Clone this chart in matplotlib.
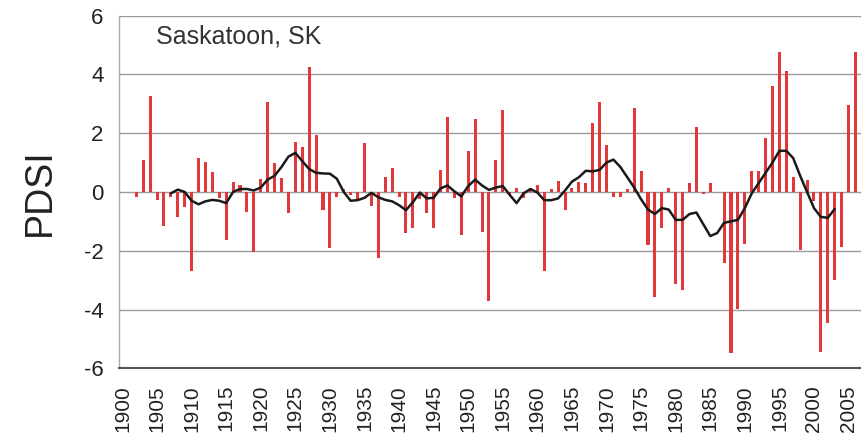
import matplotlib
matplotlib.use("Agg")
import matplotlib.pyplot as plt
import numpy as np

# annual PDSI, Saskatoon
bar_years = list(range(1902, 2008))
pdsi = [
    -0.17, 1.07, 3.25, -0.27, -1.15, -0.17, -0.86, -0.50,            # 1902-1909
    -2.70, 1.17, 1.03, 0.69, -0.22, -1.65, 0.35, 0.24, -0.67, -2.06,  # 1910-1919
    0.43, 3.05, 0.98, 0.46, -0.70, 1.71, 1.52, 4.26, 1.95, -0.62,     # 1920-1929
    -1.90, -0.16, 0.10, -0.10, -0.25, 1.65, -0.47, -2.26, 0.50, 0.82, # 1930-1939
    -0.18, -1.39, -1.22, -0.25, -0.72, -1.22, 0.75, 2.56, -0.19, -1.47,  # 1940-1949
    1.41, 2.47, -1.35, -3.70, 1.09, 2.79, -0.10, 0.12, -0.20, 0.15,   # 1950-1959
    0.24, -2.70, 0.10, 0.36, -0.62, 0.15, 0.33, 0.30, 2.36, 3.07,     # 1960-1969
    1.60, -0.17, -0.17, 0.10, 2.86, 0.70, -1.79, -3.58, -1.23, 0.15,  # 1970-1979
    -3.13, -3.33, 0.31, 2.20, -0.07, 0.31, 0.00, -2.41, -5.49, -3.99, # 1980-1989
    -1.78, 0.71, 0.70, 1.83, 3.60, 4.75, 4.13, 0.50, -1.98, 0.39,     # 1990-1999
    -0.30, -5.43, -4.47, -3.00, -1.86, 2.96, 4.75, 4.00,              # 2000-2007
]

# smoothed series
smooth_years = list(range(1907, 2004))
smooth = [
    -0.05, 0.08, 0.00,                                                # 1907-1909
    -0.30, -0.42, -0.32, -0.27, -0.30, -0.38, 0.00, 0.10, 0.10, 0.05, # 1910-1919
    0.15, 0.42, 0.55, 0.85, 1.20, 1.33, 1.05, 0.78, 0.65, 0.63,       # 1920-1929
    0.62, 0.45, 0.00, -0.30, -0.28, -0.20, -0.03, -0.18, -0.27, -0.32,  # 1930-1939
    -0.45, -0.62, -0.35, -0.02, -0.22, -0.20, 0.12, 0.22, 0.02, -0.15,  # 1940-1949
    0.20, 0.42, 0.22, 0.07, 0.15, 0.20, -0.10, -0.38, -0.05, 0.10,    # 1950-1959
    -0.02, -0.28, -0.28, -0.22, 0.05, 0.35, 0.50, 0.72, 0.70, 0.75,   # 1960-1969
    1.00, 1.10, 0.85, 0.50, 0.15, -0.25, -0.60, -0.75, -0.55, -0.60,  # 1970-1979
    -0.95, -0.95, -0.75, -0.70, -1.10, -1.50, -1.40, -1.05, -1.00, -0.95,  # 1980-1989
    -0.55, -0.05, 0.30, 0.65, 1.00, 1.40, 1.40, 1.15, 0.55, 0.00,     # 1990-1999
    -0.55, -0.85, -0.88, -0.58,                                       # 2000-2003
]

tick_years = list(range(1900, 2010, 5))

plt.rcParams["font.family"] = ["Liberation Sans", "DejaVu Sans"]

fig = plt.figure(figsize=(8.61, 4.41), dpi=100)
ax = fig.add_axes([0.1382, 0.1649, 0.8618, 0.7997])

grid_c = "#9a9a9a"
for yv in range(-4, 7, 2):
    ax.axhline(yv, color=grid_c, lw=1.0, zorder=0)

ax.bar(bar_years, pdsi, width=0.44, color="#e0393b", zorder=2)
ax.plot(smooth_years, smooth, color="#1a1a1a", lw=1.8, zorder=3,
        solid_joinstyle="round", solid_capstyle="round")

ax.set_xlim(1899.5, 2006.8)
ax.set_ylim(-6, 6)
ax.set_yticks(range(-6, 7, 2))
ax.set_yticklabels([str(v) for v in range(-6, 7, 2)], fontsize=16, color="#222222")
ax.set_xticks(tick_years)
ax.set_xticklabels([str(y) for y in tick_years], rotation=90, fontsize=15,
                   color="#222222")
ax.tick_params(axis="x", length=0, pad=12)
ax.tick_params(axis="y", length=0, pad=11)

for side in ("top", "right"):
    ax.spines[side].set_visible(False)
ax.spines["left"].set_color("#aaaaaa")
ax.spines["left"].set_linewidth(1.0)
ax.spines["bottom"].set_color("#555555")
ax.spines["bottom"].set_linewidth(1.5)

ax.set_ylabel("PDSI", fontsize=27, color="#222222", labelpad=19)
ax.text(0.05, 0.94, "Saskatoon, SK", transform=ax.transAxes, fontsize=18,
        color="#333333", va="center", ha="left")

fig.savefig("out.png", dpi=100)
